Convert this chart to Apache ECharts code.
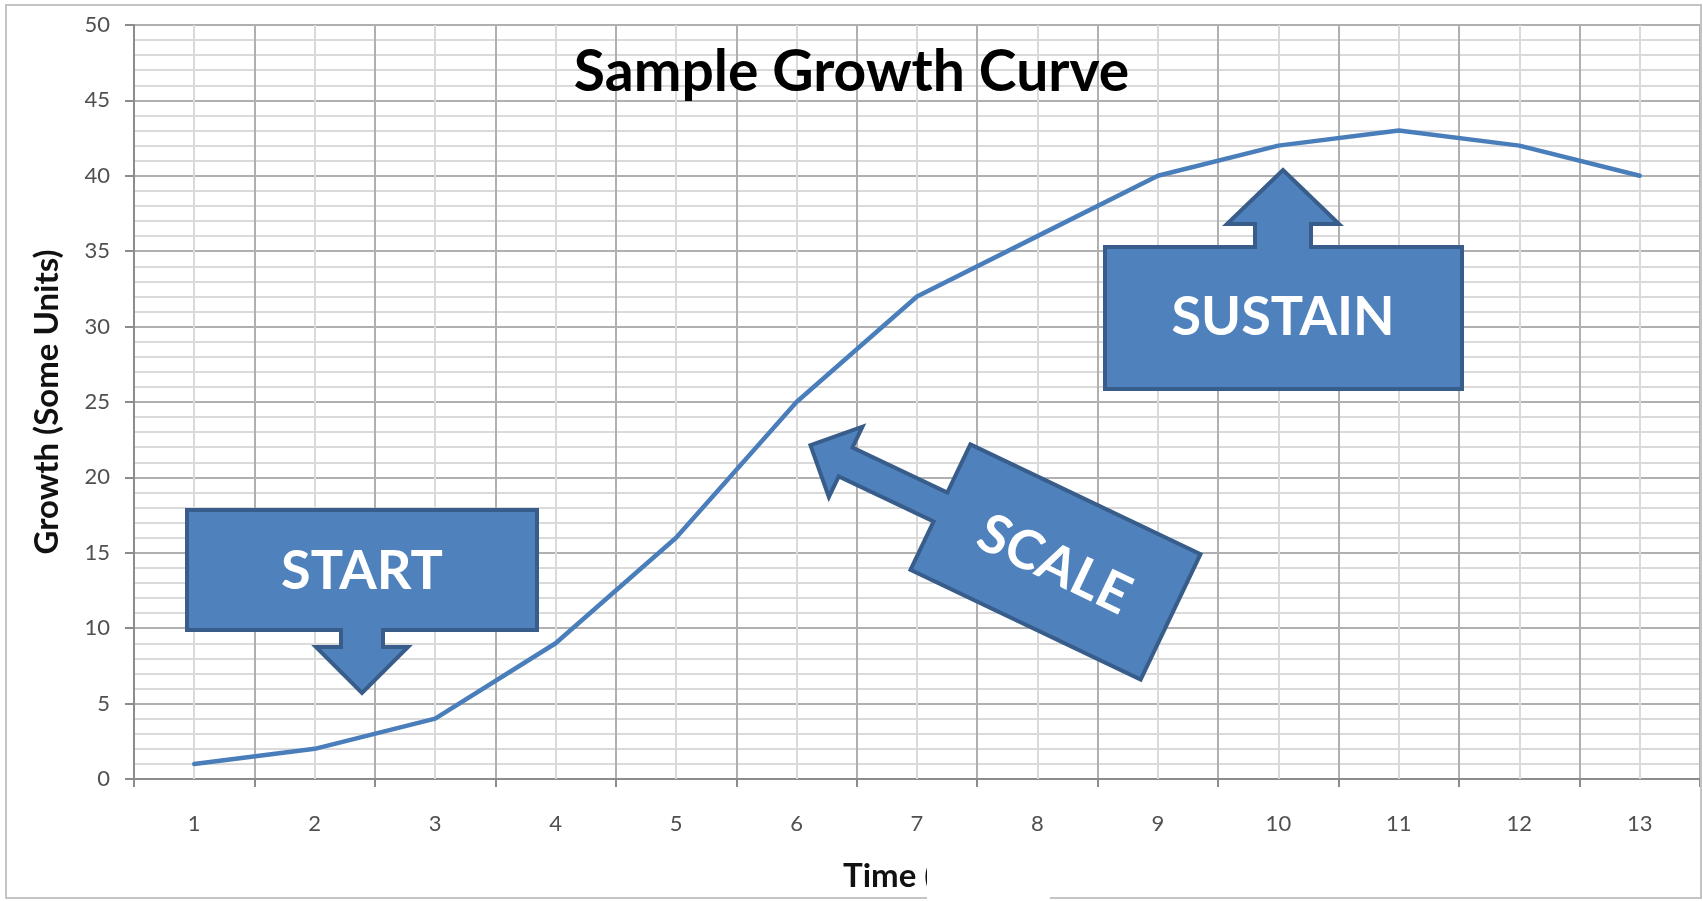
<!DOCTYPE html>
<html>
<head>
<meta charset="utf-8">
<title>Sample Growth Curve</title>
<script src="https://cdn.jsdelivr.net/npm/echarts@6/dist/echarts.min.js"></script>
<style>
  html, body { margin: 0; padding: 0; background: #ffffff; }
  #chart { width: 1703px; height: 901px; }
</style>
</head>
<body>
<div id="chart"></div>
<script>
// Time steps along the x axis and the measured growth at each step
const timeSteps = ['1', '2', '3', '4', '5', '6', '7', '8', '9', '10', '11', '12', '13'];
const growth = [1, 2, 4, 9, 16, 25, 32, 36, 40, 42, 43, 42, 40];

// Value axis range
const yMin = 0;
const yMax = 50;
const yStep = 5;

// Texts
const chartTitle = 'Sample Growth Curve';
const yAxisName = 'Growth (Some Units)';
const xAxisName = 'Time (';
const phaseLabels = ['START', 'SCALE', 'SUSTAIN'];

const FONT = 'Lato, "Open Sans", sans-serif';
const CALLOUT_FILL = '#4f81bd';
const CALLOUT_STROKE = '#385d8a';
const MAJOR_GRID = '#b0b0b0';
const MINOR_GRID = '#dadada';

const chart = echarts.init(document.getElementById('chart'), null, { renderer: 'canvas' });

function calloutText(text, x, y) {
  return {
    type: 'text',
    z: 102,
    style: {
      text: text,
      x: x, y: y,
      fill: '#ffffff',
      font: 'bold 54px ' + FONT,
      align: 'center', verticalAlign: 'middle',
      textAlign: 'center', textVerticalAlign: 'middle'
    }
  };
}

const calloutStyle = { fill: CALLOUT_FILL, stroke: CALLOUT_STROKE, lineWidth: 4, lineJoin: 'miter' };

const option = {
  backgroundColor: '#ffffff',
  animation: false,
  title: {
    text: chartTitle,
    left: 'center',
    top: 44,
    padding: 0,
    textStyle: { fontFamily: FONT, fontWeight: 'bold', fontSize: 57, color: '#000000' }
  },
  grid: { left: 134, top: 25, right: 3, bottom: 122, containLabel: false },
  xAxis: {
    type: 'category',
    data: timeSteps,
    boundaryGap: true,
    axisLine: { show: true, lineStyle: { color: '#8c8c8c', width: 2 } },
    axisTick: { show: true, length: 8, alignWithLabel: false, lineStyle: { color: '#8c8c8c', width: 2 } },
    axisLabel: { margin: 34, fontFamily: FONT, fontSize: 22, color: '#505050' },
    splitLine: { show: true, lineStyle: { color: MAJOR_GRID, width: 2 } }
  },
  yAxis: {
    type: 'value',
    min: yMin,
    max: yMax,
    interval: yStep,
    name: yAxisName,
    nameLocation: 'middle',
    nameGap: 70,
    nameRotate: 90,
    nameTextStyle: { fontFamily: FONT, fontWeight: 'bold', fontSize: 33, color: '#111111' },
    axisLine: { show: true, lineStyle: { color: '#8c8c8c', width: 2 } },
    axisTick: { show: true, length: 9, lineStyle: { color: '#8c8c8c', width: 2 } },
    axisLabel: { margin: 24, fontFamily: FONT, fontSize: 22, color: '#505050' },
    splitLine: { show: true, lineStyle: { color: MAJOR_GRID, width: 2 } },
    minorTick: { show: false, splitNumber: 5 },
    minorSplitLine: { show: true, lineStyle: { color: MINOR_GRID, width: 2 } }
  },
  series: [{
    type: 'line',
    data: growth,
    symbol: 'none',
    z: 3,
    lineStyle: { color: '#4a7ebb', width: 4.5, cap: 'round', join: 'round' },
    // light vertical lines through each time step
    markLine: {
      silent: true,
      z: 1,
      symbol: ['none', 'none'],
      label: { show: false },
      lineStyle: { color: MINOR_GRID, width: 2, type: 'solid' },
      emphasis: { disabled: true },
      data: timeSteps.map(function (t) { return { xAxis: t }; })
    }
  }],
  graphic: [
    // chart frame
    {
      type: 'rect', z: 100, silent: true,
      shape: { x: 6, y: 5, width: 1695, height: 893 },
      style: { fill: 'none', stroke: '#c4c4c4', lineWidth: 2 }
    },
    // START callout pointing down
    {
      type: 'polygon', z: 101,
      shape: { points: [[187, 510], [537, 510], [537, 630], [383, 630], [383, 647], [408, 647],
                        [362, 693], [316, 647], [341, 647], [341, 630], [187, 630]] },
      style: calloutStyle
    },
    calloutText(phaseLabels[0], 362, 572),
    // SCALE callout, tilted, pointing up-left
    {
      type: 'group', z: 101,
      x: 1055.5, y: 562,
      rotation: -25.5 * Math.PI / 180,
      children: [
        {
          type: 'polygon', z: 101,
          shape: { points: [[-127.5, -69.5], [127.5, -69.5], [127.5, 69.5], [-127.5, 69.5],
                            [-127.5, 16], [-232.5, 16], [-232.5, 39], [-271.5, 0],
                            [-232.5, -39], [-232.5, -16], [-127.5, -16]] },
          style: calloutStyle
        },
        calloutText(phaseLabels[1], 0, 3)
      ]
    },
    // SUSTAIN callout pointing up
    {
      type: 'polygon', z: 101,
      shape: { points: [[1105, 247], [1255, 247], [1255, 224], [1227, 224], [1283, 170], [1339, 224],
                        [1311, 224], [1311, 247], [1462, 247], [1462, 389], [1105, 389]] },
      style: calloutStyle
    },
    calloutText(phaseLabels[2], 1283, 318),
    // x axis title
    {
      type: 'text', z: 100,
      style: {
        text: xAxisName, x: 843, y: 876,
        fill: '#111111', font: 'bold 33px ' + FONT,
        align: 'left', verticalAlign: 'middle',
        textAlign: 'left', textVerticalAlign: 'middle'
      }
    },
    // white patch over the lower edge
    {
      type: 'rect', z: 103, silent: true,
      shape: { x: 927, y: 850, width: 123, height: 51 },
      style: { fill: '#ffffff', stroke: 'none' }
    }
  ]
};

chart.setOption(option);
</script>
</body>
</html>
